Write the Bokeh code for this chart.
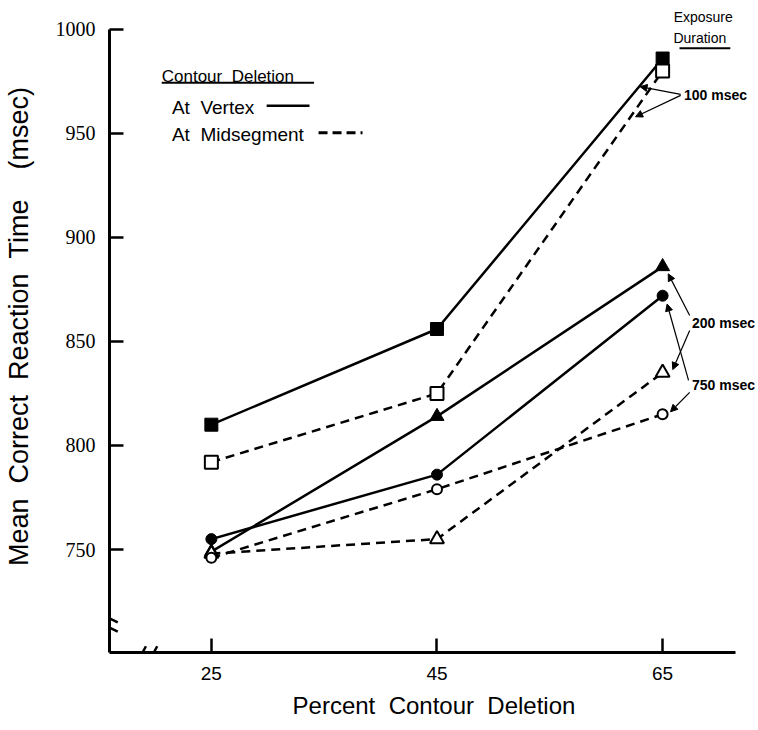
from bokeh.plotting import figure
from bokeh.models import Range1d, Arrow, NormalHead, FixedTicker
from bokeh.embed import file_html
from bokeh.resources import INLINE
from bokeh.core.properties import value

# ---- data ----
pct_deleted = [25, 45, 65]
vertex_100 = [810, 856, 986]
midseg_100 = [792, 825, 980]
vertex_200 = [749, 814, 886]
midseg_200 = [748, 755, 835]
vertex_750 = [755, 786, 872]
midseg_750 = [746, 779, 815]

xtick_vals = [25, 45, 65]
ytick_vals = [750, 800, 850, 900, 950, 1000]

X0, X1 = 15.97, 73.5
Y0, Y1 = 700.5, 1013.9
X_AXIS_END = 71.5
Y_AXIS_END = 1000

SANS = "Liberation Sans"
SERIF = "Liberation Serif"

p = figure(width=758, height=730, x_range=Range1d(X0, X1), y_range=Range1d(Y0, Y1),
           output_backend="svg", toolbar_location=None,
           min_border_left=108, min_border_right=0, min_border_top=0, min_border_bottom=78)
p.outline_line_color = None
p.xgrid.visible = False
p.ygrid.visible = False

# axes
for ax in (p.xaxis[0], p.yaxis[0]):
    ax.axis_line_width = 3
    ax.axis_line_color = "black"
    ax.major_tick_in = 14
    ax.major_tick_out = 0
    ax.major_tick_line_width = 2.5
    ax.minor_tick_line_color = None
    ax.axis_label_text_font = SANS
    ax.axis_label_text_font_style = "normal"
    ax.axis_label_text_color = "black"
    ax.major_label_text_color = "black"

p.xaxis.ticker = FixedTicker(ticks=xtick_vals)
p.xaxis.bounds = (X0, X_AXIS_END)
p.xaxis.major_label_text_font = SANS
p.xaxis.major_label_text_font_size = "19px"
p.xaxis.major_label_standoff = 14
p.xaxis.axis_label = "Percent \u00a0Contour \u00a0Deletion"
p.xaxis.axis_label_text_font_size = "24px"
p.xaxis.axis_label_standoff = 9

p.yaxis.ticker = FixedTicker(ticks=ytick_vals)
p.yaxis.bounds = (Y0, Y_AXIS_END)
p.yaxis.major_label_text_font = SERIF
p.yaxis.major_label_text_font_size = "20px"
p.yaxis.major_label_standoff = 14
p.yaxis.axis_label = "Mean \u00a0Correct \u00a0Reaction \u00a0Time \u00a0\u00a0\u00a0(msec)"
p.yaxis.axis_label_text_font_size = "27px"
p.yaxis.axis_label_standoff = 19

# series
LW = 2.5
DASH = "9 6"
p.line(pct_deleted, vertex_100, line_color="black", line_width=LW)
p.line(pct_deleted, midseg_100, line_color="black", line_width=LW, line_dash=DASH)
p.line(pct_deleted, vertex_200, line_color="black", line_width=LW)
p.line(pct_deleted, midseg_200, line_color="black", line_width=LW, line_dash=DASH)
p.line(pct_deleted, vertex_750, line_color="black", line_width=LW)
p.line(pct_deleted, midseg_750, line_color="black", line_width=LW, line_dash=DASH)

p.scatter(pct_deleted, vertex_100, marker="square", size=13, fill_color="black", line_color="black")
p.scatter(pct_deleted, midseg_100, marker="square", size=13, fill_color="white", line_color="black", line_width=2)
p.scatter(pct_deleted, vertex_200, marker="triangle", size=14, fill_color="black", line_color="black")
p.scatter(pct_deleted, midseg_200, marker="triangle", size=14, fill_color="white", line_color="black", line_width=2)
p.scatter(pct_deleted, vertex_750, marker="circle", size=11, fill_color="black", line_color="black")
p.scatter(pct_deleted, midseg_750, marker="circle", size=10, fill_color="white", line_color="black", line_width=2)

# legend (drawn as in the original figure)
p.text(x=[20.6], y=[977.5], text=["Contour \u00a0Deletion"], text_font=value(SANS),
       text_font_size="17px", text_baseline="middle", text_align="left", text_color="black")
p.segment(x0=[20.6], y0=[974.4], x1=[34.1], y1=[974.4], line_color="black", line_width=2)
p.text(x=[21.5], y=[962.5], text=["At \u00a0Vertex"], text_font=value(SANS),
       text_font_size="19px", text_baseline="middle", text_align="left", text_color="black")
p.segment(x0=[29.9], y0=[963.3], x1=[33.7], y1=[963.3], line_color="black", line_width=2.5)
p.text(x=[21.5], y=[949.5], text=["At \u00a0Midsegment"], text_font=value(SANS),
       text_font_size="19px", text_baseline="middle", text_align="left", text_color="black")
p.segment(x0=[34.5], y0=[950.3], x1=[38.4], y1=[950.3], line_color="black", line_width=3, line_dash="9 5")

# exposure duration header
p.text(x=[68.6], y=[1005.8], text=["Exposure"], text_font=value(SANS),
       text_font_size="14px", text_baseline="middle", text_align="center", text_color="black")
p.text(x=[68.3], y=[995.8], text=["Duration"], text_font=value(SANS),
       text_font_size="14px", text_baseline="middle", text_align="center", text_color="black")
p.segment(x0=[66.5], y0=[991.0], x1=[71.0], y1=[991.0], line_color="black", line_width=2)

# duration labels
for lx, ly, txt in [(66.9, 968.5, "100 msec"), (67.6, 859.0, "200 msec"), (67.6, 829.0, "750 msec")]:
    p.text(x=[lx], y=[ly], text=[txt], text_font=value(SANS), text_font_style="bold",
           text_font_size="14px", text_baseline="middle", text_align="left", text_color="black")

arrows = [
    (66.6, 968.8, 63.0, 972.5),
    (66.6, 968.3, 62.6, 958.0),
    (67.4, 862.5, 65.5, 882.5),
    (67.4, 855.3, 65.9, 836.5),
    (67.3, 831.3, 65.4, 868.0),
    (67.4, 825.5, 65.7, 816.2),
]
for xs, ys, xe, ye in arrows:
    p.add_layout(Arrow(end=NormalHead(size=7, line_color="black", fill_color="black", line_width=1),
                       x_start=xs, y_start=ys, x_end=xe, y_end=ye,
                       line_color="black", line_width=1.2))

# axis break marks
for yb in (717.0, 712.5):
    p.add_layout(Arrow(end=None, x_start=15.2, y_start=yb + 2.0, x_end=16.7, y_end=yb - 2.0,
                       line_color="black", line_width=2.5))
for xb in (18.9, 19.9):
    p.add_layout(Arrow(end=None, x_start=xb - 0.3, y_start=Y0 - 3.0, x_end=xb + 0.3, y_end=Y0 + 3.0,
                       line_color="black", line_width=2.5))

open("out.html", "w").write(file_html(p, INLINE))
